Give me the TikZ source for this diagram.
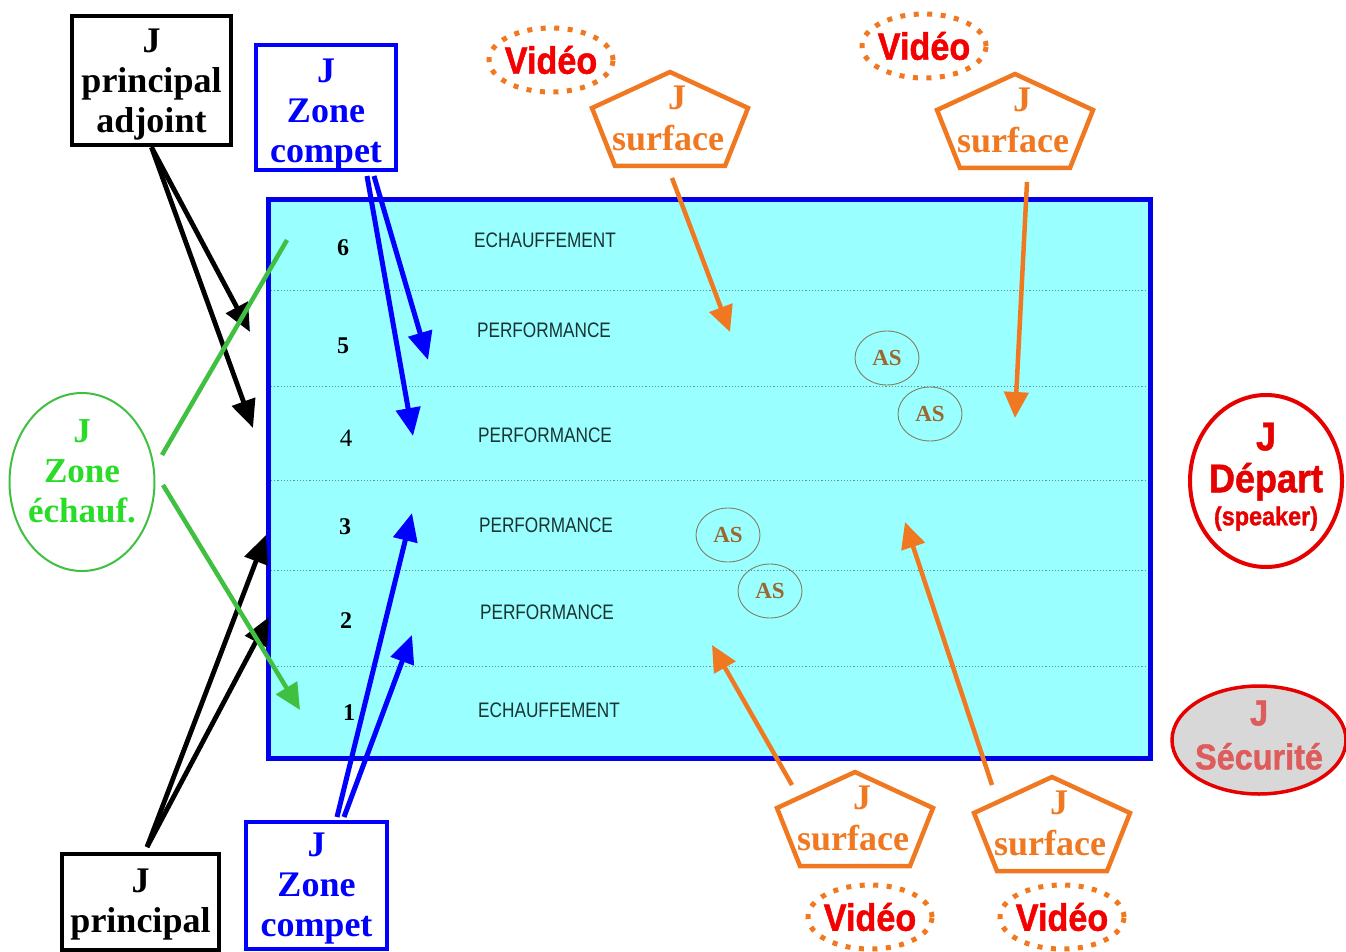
\documentclass[tikz,border=0pt]{standalone}
\usepackage{fontspec}
\setmainfont{Liberation Serif}
\newfontfamily\arialf{Liberation Sans}
\newfontfamily\heavyf[FakeBold=1.2,FakeStretch=0.9]{Liberation Sans Bold}
\newfontfamily\lanefont[FakeStretch=0.82]{Liberation Sans}
\usetikzlibrary{arrows.meta,shapes.geometric,calc}
\definecolor{poolcyan}{RGB}{153,255,255}
\definecolor{poolblue}{RGB}{0,0,235}
\definecolor{arrblue}{RGB}{0,0,255}
\definecolor{orng}{RGB}{240,120,32}
\definecolor{grnline}{RGB}{64,192,64}
\definecolor{grntext}{RGB}{40,220,40}
\definecolor{redj}{RGB}{230,0,0}
\definecolor{redvid}{RGB}{245,0,0}
\definecolor{astext}{RGB}{156,104,48}
\definecolor{asline}{RGB}{128,128,96}
\definecolor{lanetext}{RGB}{26,51,51}
\definecolor{sepcol}{RGB}{90,150,150}
\definecolor{secfill}{RGB}{216,216,216}
\definecolor{sectext}{RGB}{222,92,92}
\begin{document}
\begin{tikzpicture}[x=1pt,y=-1pt,
  judgebox/.style={draw, line width=4.5pt, inner sep=0pt, align=center,
     font=\fontsize{36}{40}\selectfont\bfseries},
  blkbox/.style={judgebox, draw=black, text=black},
  bluebox/.style={judgebox, draw=arrblue, text=arrblue},
  blkarr/.style={draw=black, line width=4.8pt, -{Triangle[length=28pt,width=24pt]}},
  bluarr/.style={draw=arrblue, line width=5pt, -{Triangle[length=28pt,width=24pt]}},
  orarr/.style={draw=orng, line width=4.5pt, -{Triangle[length=26pt,width=24pt]}},
  grnln/.style={draw=grnline, line width=4.5pt},
  grnarr/.style={grnln, -{Triangle[length=26pt,width=24pt]}},
  lanesep/.style={draw=sepcol, line width=1pt, dash pattern=on 1.2pt off 2pt},
  lanelbl/.style={text=lanetext, font=\lanefont\fontsize{21}{21}\selectfont, inner sep=0pt},
  lanenum/.style={text=black, font=\fontsize{24}{24}\selectfont\bfseries, inner sep=0pt},
  asell/.style={ellipse, draw=asline, line width=0.9pt, minimum width=64pt, minimum height=54pt,
     text=astext, font=\fontsize{23}{23}\selectfont\bfseries, inner sep=0pt},
  videll/.style={ellipse, draw=orng, line width=5pt, dash pattern=on 5pt off 8.5pt,
     minimum width=124pt, minimum height=64pt, inner sep=-10pt,
     text=redvid, font=\heavyf\fontsize{38}{38}\selectfont},
  pentpath/.style={draw=orng, line width=4.5pt, line join=miter},
  surftext/.style={text=orng, font=\fontsize{36}{40}\selectfont\bfseries, inner sep=0pt},
]
\useasboundingbox (0,0) rectangle (1346,952);
\fill[white] (0,0) rectangle (1346,952);

% pool
\node[draw=poolblue, fill=poolcyan, line width=5pt, minimum width=882pt, minimum height=558pt, inner sep=0pt]
  (pool) at (709,479) {};
\foreach \yy in {290,386,480,570,666}
  \draw[lanesep] (271,\yy) -- (1147,\yy);

% lane numbers and labels
\node[lanenum] (n6) at (343,248) {6};
\node[lanenum] (n5) at (343,346) {5};
\node[lanenum, font=\fontsize{25}{25}\selectfont] (n4) at (346,438) {4};
\node[lanenum] (n3) at (345,527) {3};
\node[lanenum] (n2) at (346,621) {2};
\node[lanenum] (n1) at (349,713) {1};
\node[lanelbl] (l6) at (545,240) {ECHAUFFEMENT};
\node[lanelbl] (l5) at (544,330) {PERFORMANCE};
\node[lanelbl] (l4) at (545,435) {PERFORMANCE};
\node[lanelbl] (l3) at (546,525) {PERFORMANCE};
\node[lanelbl] (l2) at (547,612) {PERFORMANCE};
\node[lanelbl] (l1) at (549,710) {ECHAUFFEMENT};

% AS
\node[asell] (as1) at (887,358) {AS};
\node[asell] (as2) at (930,414) {AS};
\node[asell] (as3) at (728,535) {AS};
\node[asell] (as4) at (770,591) {AS};

% judge boxes
\node[blkbox, minimum width=159pt, minimum height=129pt] (adj) at (151.5,80.5) {\rule{0pt}{32pt}J\\principal\\adjoint};
\node[bluebox, minimum width=140pt, minimum height=125pt] (zct) at (326,107.5) {\rule{0pt}{37pt}J\\Zone\\compet};
\node[blkbox, minimum width=157pt, minimum height=96pt] (prin) at (140.5,902) {\rule{0pt}{28pt}J\\principal};
\node[bluebox, minimum width=141pt, minimum height=127pt] (zcb) at (316.5,885.5) {\rule{0pt}{30pt}J\\Zone\\compet};

% warm-up zone judge
\node[ellipse, draw=grnline, line width=2pt, minimum width=145pt, minimum height=178pt, inner sep=-20pt,
  align=center, text=grntext, font=\fontsize{35}{40}\selectfont\bfseries] (ze) at (82,482)
  {J\\Zone\\échauf.\rule[-22pt]{0pt}{0pt}};

% start judge and safety
\node[ellipse, draw=redj, fill=white, line width=4pt, minimum width=152pt, minimum height=172pt, inner sep=-25pt,
  align=center, text=redj, font=\heavyf\fontsize{40}{42}\selectfont] (dep) at (1266,481)
  {J\\Départ\\[-9pt]{\fontsize{26}{31}\selectfont (speaker)}\rule[-14pt]{0pt}{0pt}};
\node[ellipse, draw=redj, fill=secfill, line width=3.5pt, minimum width=174pt, minimum height=108pt, inner sep=-20pt,
  align=center, text=sectext, font=\heavyf\fontsize{36}{44}\selectfont] (sec) at (1259,740)
  {J\\Sécurité\rule[-10pt]{0pt}{0pt}};

% video ellipses
\node[videll] (v1) at (551,60) {Vidéo};
\node[videll] (v2) at (924,46) {Vidéo};
\node[videll] (v3) at (870,917) {Vidéo};
\node[videll] (v4) at (1062,917) {Vidéo};

% surface pentagons
\foreach \nm/\cx/\cy in {p1/670/120, p2/1015/122, p3/855/820, p4/1052/825}{
  \draw[pentpath] (\cx,\cy-48) -- (\cx+78,\cy-12) -- (\cx+55,\cy+46) -- (\cx-55,\cy+46) -- (\cx-78,\cy-12) -- cycle;
  \node[surftext] (\nm j) at (\cx+7,\cy-22) {J};
  \node[surftext] (\nm s) at (\cx-2,\cy+18) {surface};
}

% coordinates for connector ends
\coordinate (ka) at (250,332);
\coordinate (kb) at (253,428);
\coordinate (ps) at (147,847);
\coordinate (kc) at (266,535);
\coordinate (kd) at (269,617);
\coordinate (g1s) at (162,455);
\coordinate (g1e) at (287,240);
\coordinate (g2s) at (163,485);
\coordinate (g2e) at (300,710);
\coordinate (bsl) at (367,176);
\coordinate (bsr) at (374,176);
\coordinate (bt1) at (428,360);
\coordinate (bt2) at (413,436);
\coordinate (bbl) at (337,817);
\coordinate (bbr) at (344,817);
\coordinate (bt3) at (412,513);
\coordinate (bt4) at (412,635);
\coordinate (o1s) at (672,178);
\coordinate (o1e) at (730,332);
\coordinate (o2s) at (1027,182);
\coordinate (o2e) at (1015,418);
\coordinate (o3s) at (792,785);
\coordinate (o3e) at (712,645);
\coordinate (o4s) at (992,785);
\coordinate (o4e) at (905,522);

% connectors
\draw[blkarr] (adj.south) -- (ka);
\draw[blkarr] (adj.south) -- (kb);
\draw[blkarr] (ps) -- (kc);
\draw[blkarr] (ps) -- (kd);
\draw[grnln] (g1s) -- (g1e);
\draw[grnarr] (g2s) -- (g2e);
\draw[bluarr] (bsr) -- (bt1);
\draw[bluarr] (bsl) -- (bt2);
\draw[bluarr] (bbl) -- (bt3);
\draw[bluarr] (bbr) -- (bt4);
\draw[orarr] (o1s) -- (o1e);
\draw[orarr] (o2s) -- (o2e);
\draw[orarr] (o3s) -- (o3e);
\draw[orarr] (o4s) -- (o4e);
\end{tikzpicture}
\end{document}
